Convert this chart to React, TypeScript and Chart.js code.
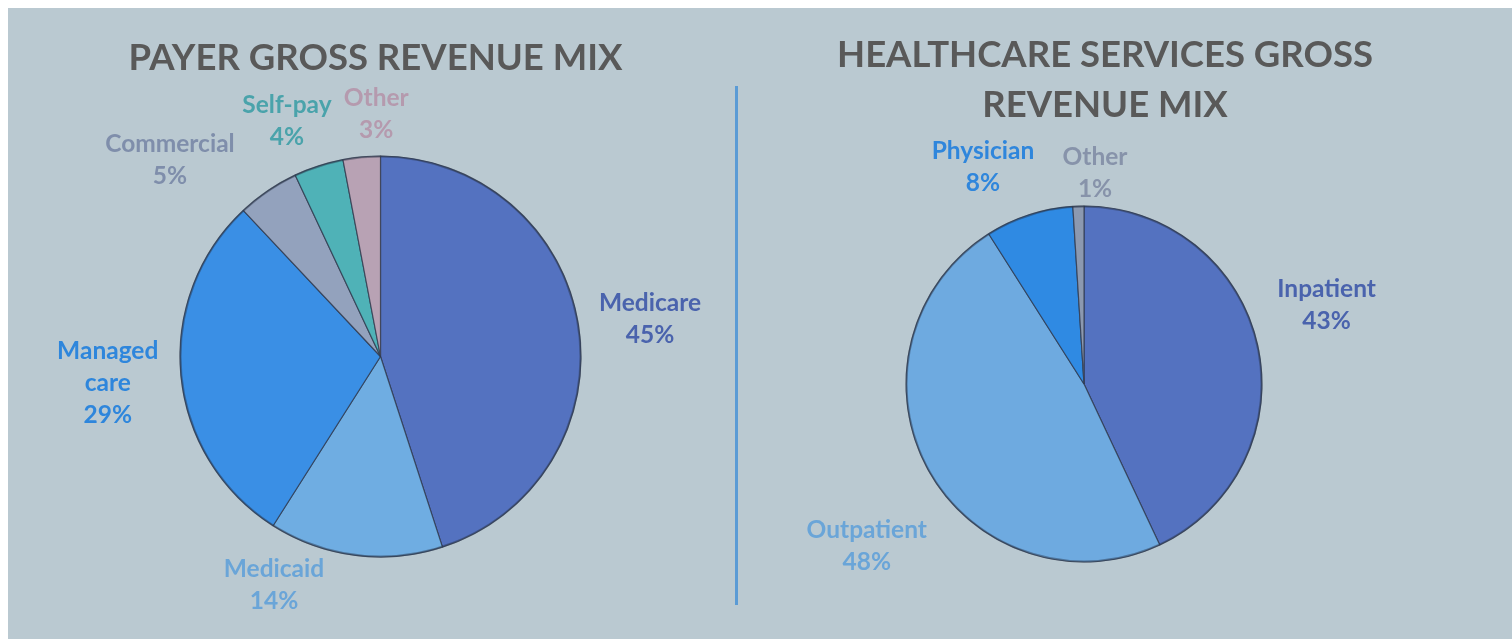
import React, { useEffect, useRef } from "react";
import { Chart, registerables } from "chart.js";

Chart.register(...registerables);

// ---- data ----
const payerCategories = ["Medicare", "Medicaid", "Managed\ncare", "Commercial", "Self-pay", "Other"];
const payerValues = [45, 14, 29, 5, 4, 3];
const payerColors = ["#5472c0", "#6fade2", "#3a8fe5", "#93a2bd", "#4fb2b7", "#b8a2b4"];
const payerLabelColors = ["#4a63ad", "#6aa5d8", "#2e86dc", "#7f8eab", "#4aa3ab", "#b59aae"];
const payerTitle = ["PAYER GROSS REVENUE MIX"];

const servicesCategories = ["Inpatient", "Outpatient", "Physician", "Other"];
const servicesValues = [43, 48, 8, 1];
const servicesColors = ["#5472c0", "#6eaae0", "#2f8ae3", "#8c99b0"];
const servicesLabelColors = ["#4a63ad", "#6aa5d8", "#2f86dc", "#8793aa"];
const servicesTitle = ["HEALTHCARE SERVICES GROSS", "REVENUE MIX"];

const FONT = "Lato, 'Open Sans', sans-serif";

const labelPlugin = {
  id: "sliceLabels",
  afterDatasetsDraw(chart: any, _args: any, opts: any) {
    const ctx = chart.ctx;
    const meta = chart.getDatasetMeta(0);
    const values = chart.data.datasets[0].data as number[];
    const total = values.reduce((a: number, b: number) => a + b, 0);
    ctx.save();
    // subtle outer rim
    const a0 = meta.data[0];
    if (a0) {
      const { x, y, outerRadius } = a0.getProps(["x", "y", "outerRadius"], true);
      ctx.beginPath();
      ctx.arc(x, y, outerRadius - 0.5, 0, Math.PI * 2);
      ctx.strokeStyle = "rgba(40,50,70,0.45)";
      ctx.lineWidth = 2;
      ctx.stroke();
    }
    ctx.font = `bold ${opts.size}px ${FONT}`;
    ctx.textAlign = "center";
    ctx.textBaseline = "middle";
    meta.data.forEach((arc: any, i: number) => {
      const { x, y, startAngle, endAngle, outerRadius } = arc.getProps(
        ["x", "y", "startAngle", "endAngle", "outerRadius"],
        true
      );
      const mid = (startAngle + endAngle) / 2 + ((opts.angleShift[i] || 0) * Math.PI) / 180;
      const d = outerRadius * (opts.distance[i] || 1.3);
      const cx = x + Math.cos(mid) * d;
      const cy = y + Math.sin(mid) * d;
      const lines = String(chart.data.labels[i]).split("\n");
      lines.push(Math.round((values[i] / total) * 100) + "%");
      const lh = opts.lineHeight;
      const y0 = cy - ((lines.length - 1) * lh) / 2;
      ctx.fillStyle = opts.colors[i];
      lines.forEach((t: string, k: number) => ctx.fillText(t, cx, y0 + k * lh));
    });
    ctx.restore();
  },
};

const titlePlugin = {
  id: "bigTitle",
  afterDraw(chart: any, _args: any, opts: any) {
    const ctx = chart.ctx;
    ctx.save();
    ctx.font = `bold ${opts.size}px ${FONT}`;
    ctx.fillStyle = "#595959";
    ctx.textAlign = "center";
    ctx.textBaseline = "alphabetic";
    (opts.lines as string[]).forEach((t, k) => ctx.fillText(t, opts.x, opts.y + k * opts.lineHeight));
    ctx.restore();
  },
};

function PieChart(props: {
  labels: string[];
  values: number[];
  colors: string[];
  labelColors: string[];
  title: string[];
  radius: number;
  padding: { left: number; right: number; top: number; bottom: number };
  angleShift: number[];
  distance: number[];
  titleX: number;
  titleY: number;
}) {
  const ref = useRef<HTMLCanvasElement>(null);
  useEffect(() => {
    const chart = new Chart(ref.current!, {
      type: "pie",
      data: {
        labels: props.labels,
        datasets: [
          {
            data: props.values,
            backgroundColor: props.colors,
            borderColor: "rgba(45,55,75,0.75)",
            borderWidth: 1.2,
            radius: props.radius,
          } as any,
        ],
      },
      options: {
        animation: false,
        responsive: true,
        maintainAspectRatio: false,
        layout: { padding: props.padding },
        plugins: {
          legend: { display: false },
          tooltip: { enabled: false },
          title: { display: false },
          sliceLabels: {
            size: 24.5,
            lineHeight: 32,
            colors: props.labelColors,
            angleShift: props.angleShift,
            distance: props.distance,
          },
          bigTitle: {
            size: 36.5,
            lineHeight: 50,
            lines: props.title,
            x: props.titleX,
            y: props.titleY,
          },
        } as any,
      },
      plugins: [labelPlugin, titlePlugin],
    });
    return () => chart.destroy();
  }, []);
  return <canvas ref={ref} />;
}

export default function App() {
  return (
    <div
      style={{
        position: "fixed",
        left: 8,
        top: 8,
        width: 1504,
        height: 631,
        background: "#bac9d1",
        overflow: "hidden",
      }}
    >
      <div style={{ position: "absolute", left: 0, top: 0, width: 736, height: 631 }}>
        <PieChart
          labels={payerCategories}
          values={payerValues}
          colors={payerColors}
          labelColors={payerLabelColors}
          title={payerTitle}
          radius={200.5}
          padding={{ left: 172, right: 163, top: 148, bottom: 82 }}
          angleShift={[1.1, 17.8, -0.2, -12.8, -3.7, 4.4]}
          distance={[1.357, 1.257, 1.367, 1.436, 1.262, 1.21]}
          titleX={367.5}
          titleY={62}
        />
      </div>
      <div
        style={{
          position: "absolute",
          left: 727,
          top: 78,
          width: 3,
          height: 519,
          background: "#5b9bd5",
        }}
      />
      <div style={{ position: "absolute", left: 744, top: 0, width: 760, height: 631 }}>
        <PieChart
          labels={servicesCategories}
          values={servicesValues}
          colors={servicesColors}
          labelColors={servicesLabelColors}
          title={servicesTitle}
          radius={178}
          padding={{ left: 154, right: 250, top: 198, bottom: 77 }}
          angleShift={[-5.4, -7.9, -7, 4.8]}
          distance={[1.433, 1.522, 1.343, 1.185]}
          titleX={353}
          titleY={59}
        />
      </div>
    </div>
  );
}
